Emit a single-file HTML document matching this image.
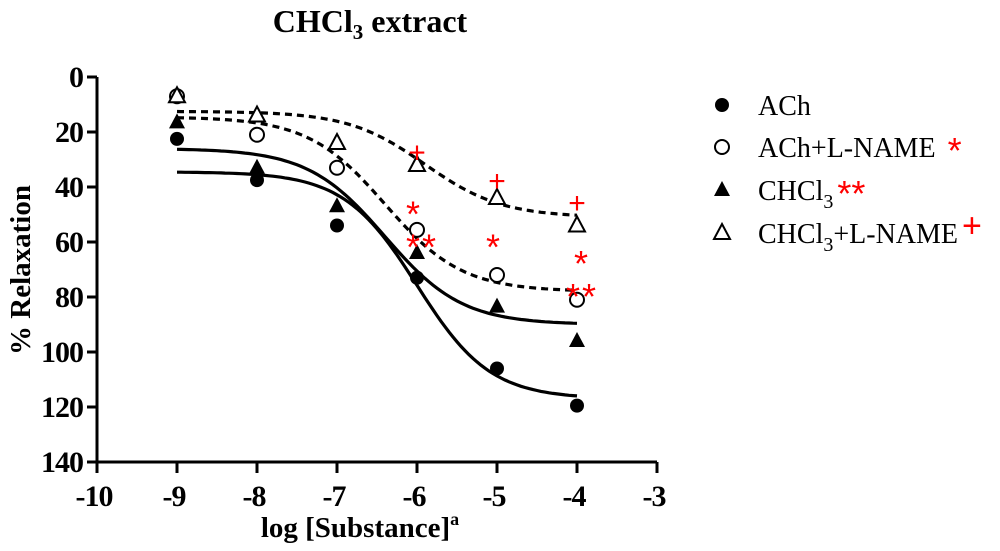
<!DOCTYPE html>
<html><head><meta charset="utf-8"><style>
html,body{margin:0;padding:0;background:#fff;}
svg{display:block;font-family:"Liberation Serif",serif;}
</style></head><body>
<svg id="chart" width="1000" height="551" viewBox="0 0 1000 551">
<text x="370" y="32" text-anchor="middle" font-size="32" font-weight="bold">CHCl<tspan font-size="21" dy="7">3</tspan><tspan dy="-7"> extract</tspan></text>
<text transform="translate(30,270) rotate(-90)" text-anchor="middle" font-size="29" font-weight="bold">% Relaxation</text>
<text x="360" y="537" text-anchor="middle" font-size="29" font-weight="bold">log [Substance]<tspan font-size="18" dy="-12">a</tspan></text>
<g id="axes"></g><g id="curves"></g><g id="points"></g><g id="marks"></g>
<g id="legend"></g>
</svg>
<script>
const xTicks=[-10,-9,-8,-7,-6,-5,-4,-3];
const yTicks=[0,20,40,60,80,100,120,140];
const doses=[-9,-8,-7,-6,-5,-4];
const achVals=[22.5,37.5,54,73,106,119.5];
const achLnameVals=[7,21,33,55.6,72,81];
const chcl3Vals=[16.5,33,47,64,83.5,96];
const chcl3LnameVals=[7,14,24,32,44,54];
// fitted sigmoid params: top, bottom, logEC50, hill
const achFit=[34.5,117,-6.0,0.95];
const achLnameFit=[14.5,78,-6.4,0.9];
const chcl3Fit=[26,90,-6.4,0.9];
const chcl3LnameFit=[12.5,51,-5.9,0.9];
const plusX=[-6,-5,-4];
const plusY=[27,37.5,45.5];
const starX=[-6.05,-6.05,-5.85,-5.05,-3.95,-4.05,-3.85];
const starY=[47,59,59,59,65,77,77];
const legendLabels=["ACh","ACh+L-NAME","CHCl3","CHCl3+L-NAME"];

const X=v=>97+(v+10)*80, Y=v=>77+v*2.75;
const NS="http://www.w3.org/2000/svg";
function el(tag,attrs,parent){const e=document.createElementNS(NS,tag);for(const k in attrs)e.setAttribute(k,attrs[k]);parent.appendChild(e);return e;}
const axes=document.getElementById('axes');
let a=el('line',{x1:97,y1:Y(0),x2:97,y2:Y(140),stroke:'#000','stroke-width':3},axes);


a=el('line',{x1:97,y1:Y(140),x2:X(-3),y2:Y(140),stroke:'#000','stroke-width':3},axes);


yTicks.forEach(v=>{
 el('line',{x1:87,y1:Y(v),x2:97,y2:Y(v),stroke:'#000','stroke-width':3},axes);
 const t=el('text',{x:83,y:Y(v)+10,'text-anchor':'end','font-size':30,'font-weight':'bold','letter-spacing':'-1'},axes);
 t.textContent=v;
 
 
});
xTicks.forEach(v=>{
 el('line',{x1:X(v),y1:Y(140),x2:X(v),y2:Y(140)+11,stroke:'#000','stroke-width':3},axes);
 const t=el('text',{x:X(v)-3,y:Y(140)+44,'text-anchor':'middle','font-size':30,'font-weight':'bold','letter-spacing':'-1'},axes);
 t.textContent=v;
 
 
});
const curves=document.getElementById('curves');
function curve(p,dash,name){
 let d='';for(let i=0;i<=100;i++){const x=-9+5*i/100;const y=p[0]+(p[1]-p[0])/(1+Math.pow(10,(p[2]-x)*p[3]));d+=(i?'L':'M')+X(x).toFixed(1)+','+Y(y).toFixed(1);}
 const c=el('path',{d:d,fill:'none',stroke:'#000','stroke-width':3.2,'stroke-dasharray':dash?'7,5':'none'},curves);
 
 
}
curve(achFit,false,'ach-fit-curve');curve(chcl3Fit,false,'chcl3-fit-curve');
curve(achLnameFit,true,'ach-lname-fit-curve');curve(chcl3LnameFit,true,'chcl3-lname-fit-curve');
const pts=document.getElementById('points');
function marker(type,x,y,g){
 if(type==0)return el('circle',{cx:x,cy:y,r:7,fill:'#000'},g);
 if(type==1)return el('circle',{cx:x,cy:y,r:7,fill:'#fff',stroke:'#000','stroke-width':2},g);
 const p=`${x},${y-9} ${x+8},${y+6} ${x-8},${y+6}`;
 if(type==2)return el('polygon',{points:p,fill:'#000'},g);
 return el('polygon',{points:p,fill:'#fff',stroke:'#000','stroke-width':2},g);
}
[achVals,chcl3Vals,achLnameVals,chcl3LnameVals].forEach((arr,si)=>{
 const type=[0,2,1,3][si];const nm=['ach','chcl3','ach-lname','chcl3-lname'][si];
 arr.forEach((v,i)=>{const m=marker(type,X(doses[i]),Y(v),pts);
  
  });
});
const marks=document.getElementById('marks');
plusX.forEach((v,i)=>{const t=el('text',{x:X(v),y:Y(plusY[i])+11,'text-anchor':'middle','font-size':30,fill:'#f00','font-family':'Liberation Sans, sans-serif'},marks);
 t.textContent='+';
 
 });
starX.forEach((v,i)=>{const t=el('text',{x:X(v),y:Y(starY[i])+20,'text-anchor':'middle','font-size':36,fill:'#f00','font-family':'Liberation Sans, sans-serif'},marks);
 t.textContent='*';
 
 });
const lg=document.getElementById('legend');
const rowsY=[105,147,190,233];const extras=['','*','**','+'];
legendLabels.forEach((lab,i)=>{
 const m=marker(i,722,rowsY[i],lg);
 
 
 const t=el('text',{x:758,y:rowsY[i]+10,'font-size':28},lg);
 
 
 if(lab.startsWith('CHCl3')){t.innerHTML='CHCl<tspan font-size="20" dy="8">3</tspan><tspan dy="-8">'+lab.slice(5)+'</tspan>';}
 else t.textContent=lab;
 const w=t.getComputedTextLength?t.getComputedTextLength():0;
 const s=el('text',{x:758+w+(i==1?12:4),y:rowsY[i]+(i==3?4:(i==0?8:16)),'font-size':i==3?34:36,fill:'#f00','font-family':'Liberation Sans, sans-serif'},lg);
 s.textContent=extras[i];
 
 
});
</script>
</body></html>
